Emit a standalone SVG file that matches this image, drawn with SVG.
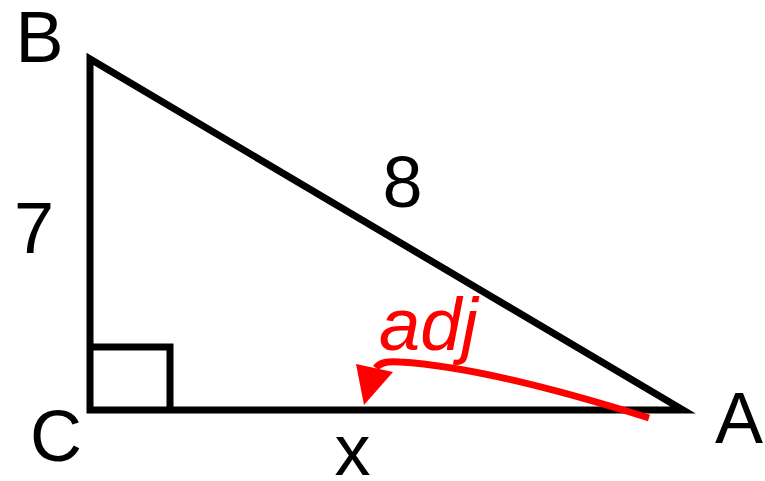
<svg xmlns="http://www.w3.org/2000/svg" width="765" height="481" viewBox="0 0 765 481">
<style>
.edge{fill:none;stroke:#000;stroke-width:7;stroke-linejoin:miter}
.lbl{font-family:"Liberation Sans",Arial,sans-serif;font-size:72px;fill:#000;text-anchor:middle}
.red{fill:#ff0000}
</style>
<rect width="765" height="481" fill="#fff"/>
<g id="triangle">
<polygon class="edge" points="90,59 90,410 683,410"/>
<polyline class="edge" points="90,347 170,347 170,410"/>
</g>
<g id="labels">
<text class="lbl" x="39.5" y="62">B</text>
<text class="lbl" x="34" y="253">7</text>
<text class="lbl" x="56" y="461">C</text>
<text class="lbl" x="402.5" y="207">8</text>
<text class="lbl" x="352.5" y="475">x</text>
<text class="lbl" x="739" y="443">A</text>
</g>
<g id="connectors">
<path d="M 649 418 C 560 390, 470 366, 400 362 C 388 361, 380 362, 376 368" fill="none" stroke="#ff0000" stroke-width="7"/>
<polygon class="red" points="356,364 393,372 364,405"/>
</g>
<g id="adj-label">
<text x="379" y="350" font-family="'Liberation Sans',Arial,sans-serif" font-size="74" font-style="italic" fill="#ff0000">adj</text>
</g>
</svg>
